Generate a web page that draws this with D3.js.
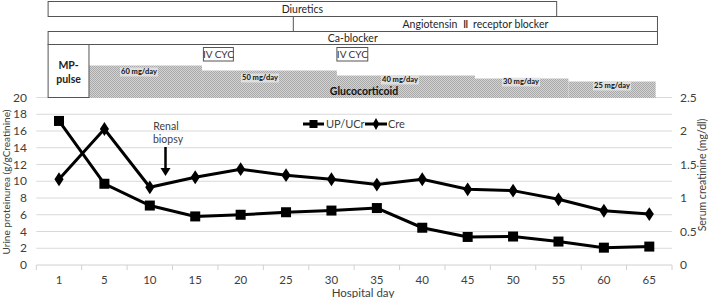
<!DOCTYPE html>
<html><head><meta charset="utf-8">
<script src="https://cdn.jsdelivr.net/npm/d3@7"></script>
<style>body{margin:0;background:#fff}svg{display:block;font-family:Lato,"Open Sans",sans-serif}</style>
</head><body><div id="c"></div>
<script>
// ---- data ----
const days = ["1","5","10","15","20","25","30","35","40","45","50","55","60","65"];
const upucr = [17.2, 9.7, 7.1, 5.8, 6.0, 6.3, 6.5, 6.8, 4.45, 3.35, 3.4, 2.8, 2.07, 2.2];
const cre = [1.28, 2.03, 1.16, 1.31, 1.43, 1.34, 1.28, 1.2, 1.28, 1.13, 1.11, 0.98, 0.81, 0.76];
const leftTicks = [0,2,4,6,8,10,12,14,16,18,20];
const rightTicks = [0,0.5,1,1.5,2,2.5];
// treatments: timeline in hospital days (day 0 = first category centre)
const treatNames = ["Diuretics", "Angiotensin  \u2161  receptor blocker", "Ca-blocker"];
const treatStart = [-1.2, 25.8, -1.2];
const treatEnd = [54.8, 65.9, 65.9];
const cycStart = [15.9, 30.6];
const cycEnd = [19.2, 34.0];
const mpStart = -1.2, mpEnd = 3.3;
const gcBreaks = [3.3, 15.75, 30.6, 45.8, 56.1, 65.7];
const gcDose = [60, 50, 40, 30, 25];

const W = 708, H = 298;
const svg = d3.select("#c").append("svg").attr("width", W).attr("height", H);
const defs = svg.append("defs");
const pat = defs.append("pattern").attr("id","hatch").attr("width",2).attr("height",2).attr("patternUnits","userSpaceOnUse");
pat.append("rect").attr("width",2).attr("height",2).attr("fill","#d4d4d4");
pat.append("rect").attr("width",1).attr("height",1).attr("fill","#a8a8a8");
pat.append("rect").attr("x",1).attr("y",1).attr("width",1).attr("height",1).attr("fill","#a8a8a8");

const plotL = 36.3, plotR = 672, yTop = 97.5, yBot = 265;
const x = d3.scaleBand().domain(days).range([plotL, plotR]);
const xc = d => x(d) + x.bandwidth()/2;
const yL = d3.scaleLinear().domain([0,20]).range([yBot, yTop]);
const yR = d3.scaleLinear().domain([0,2.5]).range([yBot, yTop]);
const t = d3.scaleLinear().domain([0,65]).range([xc("1"), xc("65")]);
const txt = "#404040";

// gridlines
svg.append("g").selectAll("line").data(leftTicks.slice(1)).join("line")
  .attr("x1", plotL).attr("x2", plotR).attr("y1", d=>yL(d)).attr("y2", d=>yL(d))
  .attr("stroke","#d9d9d9").attr("stroke-width",1);

// bottom axis
const xAxis = svg.append("g").attr("transform",`translate(0,${yBot})`);
xAxis.append("line").attr("x1",plotL).attr("x2",plotR).attr("stroke","#d0d0d0");
const bounds = days.map(d=>x(d)).concat([plotR]);
xAxis.selectAll("line.tk").data(bounds).join("line").attr("class","tk")
  .attr("x1",d=>d).attr("x2",d=>d).attr("y1",0).attr("y2",5).attr("stroke","#d0d0d0");
xAxis.selectAll("text").data(days).join("text")
  .attr("x", d=>xc(d)).attr("y", 18.5).attr("text-anchor","middle")
  .attr("font-size",11.5).attr("fill",txt).text(d=>d);
svg.append("text").attr("x",363).attr("y",297).attr("text-anchor","middle")
  .attr("font-size",11.5).attr("fill",txt).text("Hospital day");

// left axis labels
svg.append("g").selectAll("text").data(leftTicks).join("text")
  .attr("x",27).attr("y",d=>yL(d)+4).attr("text-anchor","end")
  .attr("font-size",12).attr("fill",txt).text(d=>d);
svg.append("text").attr("transform","translate(10,182) rotate(-90)").attr("text-anchor","middle")
  .attr("font-size",10).attr("fill",txt).text("Urine proteinurea  (g/gCreatinine)");
// right axis labels
svg.append("g").selectAll("text").data(rightTicks).join("text")
  .attr("x",680).attr("y",d=>yR(d)+4).attr("text-anchor","start")
  .attr("font-size",12).attr("fill",txt).text(d=>d);
svg.append("text").attr("transform","translate(706,175) rotate(-90)").attr("text-anchor","middle")
  .attr("font-size",10.5).attr("fill",txt).text("Serum creatinine (mg/dl)");

// treatment panel
const rowY = [1, 16, 31];
const rowH = [15, 15, 13];
treatNames.forEach((n,i)=>{
  svg.append("rect").attr("x",t(treatStart[i])).attr("y",rowY[i]+0.5)
    .attr("width",t(treatEnd[i])-t(treatStart[i])).attr("height",rowH[i])
    .attr("fill","#fff").attr("stroke","#555").attr("stroke-width",1);
  svg.append("text").attr("x",(t(treatStart[i])+t(treatEnd[i]))/2).attr("y",rowY[i]+rowH[i]/2+4.5)
    .attr("text-anchor","middle").attr("font-size",10.5).attr("fill","#262626").attr("xml:space","preserve").text(n);
});

// glucocorticoid steps
const gcTops = [65.5, 70.5, 75.5, 78.5, 81.5];
const gcG = svg.append("g");
gcDose.forEach((d,i)=>{
  gcG.append("rect").attr("x",t(gcBreaks[i])).attr("y",gcTops[i])
    .attr("width",t(gcBreaks[i+1])-t(gcBreaks[i])).attr("height",98-gcTops[i])
    .attr("fill","url(#hatch)");
});
const gcLabelPos = [[139,74],[260,80],[400,82],[521,84],[612,88]];
gcDose.forEach((d,i)=>{
  const [lx,ly] = gcLabelPos[i];
  gcG.append("rect").attr("x",lx-19).attr("y",ly-6.5).attr("width",38).attr("height",9).attr("fill","#e6e6e6").attr("opacity",0.8);
  gcG.append("text").attr("x",lx).attr("y",ly).attr("text-anchor","middle")
    .attr("font-size",7.5).attr("font-weight","bold").attr("fill","#111").text(d+" mg/day");
});
svg.append("text").attr("x",364).attr("y",95).attr("text-anchor","middle")
  .attr("font-size",10.5).attr("font-weight","bold").attr("fill","#111").text("Glucocorticoid");

// MP-pulse
svg.append("rect").attr("x",t(mpStart)).attr("y",44.5).attr("width",t(mpEnd)-t(mpStart)).attr("height",53)
  .attr("fill","#fff").attr("stroke","#555");
svg.append("text").attr("x",(t(mpStart)+t(mpEnd))/2).attr("y",69).attr("text-anchor","middle")
  .attr("font-size",10.5).attr("font-weight","bold").attr("fill","#222").text("MP-");
svg.append("text").attr("x",(t(mpStart)+t(mpEnd))/2).attr("y",83).attr("text-anchor","middle")
  .attr("font-size",10.5).attr("font-weight","bold").attr("fill","#222").text("pulse");

// IV CYC
cycStart.forEach((s,i)=>{
  svg.append("rect").attr("x",t(s)).attr("y",47.5).attr("width",t(cycEnd[i])-t(s)).attr("height",13.5)
    .attr("fill","#fff").attr("stroke","#555");
  svg.append("text").attr("x",(t(s)+t(cycEnd[i]))/2).attr("y",58).attr("text-anchor","middle")
    .attr("font-size",10).attr("fill","#333").text("IV CYC");
});

// lines
const lineL = d3.line().x((d,i)=>xc(days[i])).y(d=>yL(d));
const lineR = d3.line().x((d,i)=>xc(days[i])).y(d=>yR(d));
svg.append("path").attr("d",lineL(upucr)).attr("fill","none").attr("stroke","#000").attr("stroke-width",3);
svg.append("path").attr("d",lineR(cre)).attr("fill","none").attr("stroke","#000").attr("stroke-width",3);
svg.append("g").selectAll("rect").data(upucr).join("rect")
  .attr("x",(d,i)=>xc(days[i])-5).attr("y",d=>yL(d)-5).attr("width",10).attr("height",10).attr("fill","#000");
const diamond = d3.symbol().type(d3.symbolDiamond).size(55);
svg.append("g").selectAll("path").data(cre).join("path")
  .attr("transform",(d,i)=>`translate(${xc(days[i])},${yR(d)}) scale(1.15,1)`).attr("d",diamond).attr("fill","#000");

// legend
const lg = svg.append("g");
lg.append("line").attr("x1",303).attr("x2",324).attr("y1",124).attr("y2",124).attr("stroke","#000").attr("stroke-width",3);
lg.append("rect").attr("x",309.5).attr("y",120).attr("width",8).attr("height",8).attr("fill","#000");
lg.append("text").attr("x",326).attr("y",128).attr("font-size",11).attr("fill",txt).text("UP/UCr");
lg.append("line").attr("x1",365).attr("x2",387).attr("y1",124).attr("y2",124).attr("stroke","#000").attr("stroke-width",3);
lg.append("path").attr("transform","translate(376,124)").attr("d",d3.symbol().type(d3.symbolDiamond).size(40)).attr("fill","#000");
lg.append("text").attr("x",388).attr("y",128).attr("font-size",11).attr("fill",txt).text("Cre");

// renal biopsy annotation
svg.append("text").attr("x",166).attr("y",130).attr("text-anchor","middle").attr("font-size",10.5).attr("fill",txt).text("Renal");
svg.append("text").attr("x",168).attr("y",143).attr("text-anchor","middle").attr("font-size",10.5).attr("fill",txt).text("biopsy");
svg.append("line").attr("x1",165.5).attr("x2",165.5).attr("y1",147).attr("y2",169).attr("stroke","#000").attr("stroke-width",2.5);
svg.append("path").attr("d","M160.5,168 L170.5,168 L165.5,176 Z").attr("fill","#000");
</script></body></html>
